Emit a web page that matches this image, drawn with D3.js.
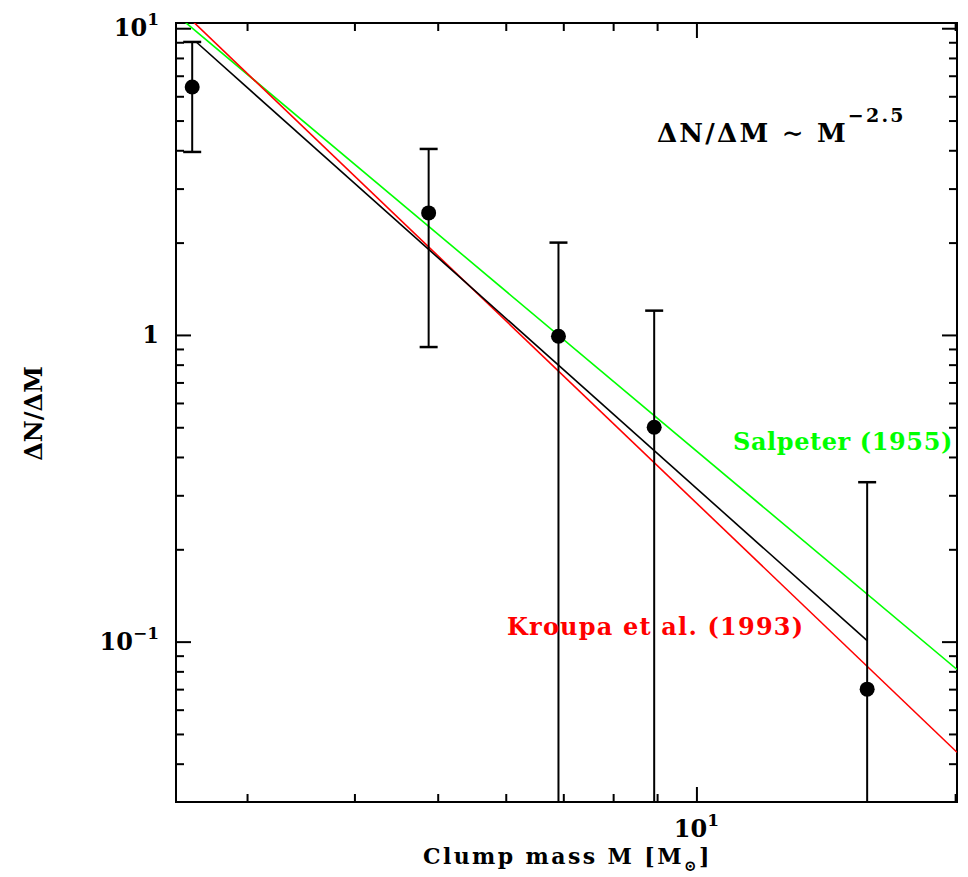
<!DOCTYPE html>
<html>
<head>
<meta charset="utf-8">
<script src="https://cdn.jsdelivr.net/npm/d3@7.9.0/dist/d3.min.js"></script>
<style>
  html, body { margin: 0; padding: 0; background: #fff; }
  svg { display: block; font-family: "DejaVu Serif", serif; }
</style>
</head>
<body>
<svg id="chart" width="968" height="877"></svg>
<script>
// clump mass spectrum
const clumpMass = [2.59, 4.88, 6.91, 8.93, 15.8];
const dNdM = [6.43, 2.50, 0.99, 0.50, 0.070];
const errUp = [9.02, 4.04, 2.0, 1.20, 0.331];
const errDown = [3.95, 0.913, 0, 0, 0]; // 0 -> bar runs off the bottom

// power laws: dN/dM = norm * M^slope
const fitLaw = { norm: 100, slope: -2.5, from: 2.62, to: 15.8 };
const salpeterLaw = { norm: 93.7, slope: -2.35 };
const kroupaLaw = { norm: 135.5, slope: -2.68 };

const massDomain = [2.48, 20.1];
const dndmDomain = [0.03, 10.4];

const massMajor = [10];
const massMinor = [3, 4, 5, 6, 7, 8, 9, 20];
const dndmMajor = [0.1, 1, 10];
const dndmMinor = [0.04, 0.05, 0.06, 0.07, 0.08, 0.09,
  0.2, 0.3, 0.4, 0.5, 0.6, 0.7, 0.8, 0.9,
  2, 3, 4, 5, 6, 7, 8, 9];
const dndmTickLabels = [["10", "\u22121"], ["1", ""], ["10", "1"]];
const massTickLabels = [["10", "1"]];

const svg = d3.select("#chart");
const margin = { left: 176, top: 23, right: 11, bottom: 75 };
const W = +svg.attr("width"), H = +svg.attr("height");
const x0 = margin.left, x1 = W - margin.right;
const y0 = margin.top, y1 = H - margin.bottom;

const x = d3.scaleLog().domain(massDomain).range([x0, x1]);
const y = d3.scaleLog().domain(dndmDomain).range([y1, y0]);

svg.append("clipPath").attr("id", "plot-clip")
  .append("rect").attr("x", x0).attr("y", y0)
  .attr("width", x1 - x0).attr("height", y1 - y0);

// ticks on all four sides, pointing in
function ticks(axisFn, scale, values, size, tx, ty) {
  svg.append("g")
    .attr("transform", `translate(${tx},${ty})`)
    .call(axisFn(scale).tickValues(values).tickSize(-size).tickFormat(""))
    .call(g => g.select(".domain").remove())
    .call(g => g.selectAll("line").attr("stroke", "#000").attr("stroke-width", 2));
}
ticks(d3.axisBottom, x, massMajor, 15, 0, y1);
ticks(d3.axisBottom, x, massMinor, 8, 0, y1);
ticks(d3.axisTop, x, massMajor, 15, 0, y0);
ticks(d3.axisTop, x, massMinor, 8, 0, y0);
ticks(d3.axisLeft, y, dndmMajor, 15, x0, 0);
ticks(d3.axisLeft, y, dndmMinor, 8, x0, 0);
ticks(d3.axisRight, y, dndmMajor, 15, x1, 0);
ticks(d3.axisRight, y, dndmMinor, 8, x1, 0);

svg.append("rect")
  .attr("x", x0).attr("y", y0)
  .attr("width", x1 - x0).attr("height", y1 - y0)
  .attr("fill", "none").attr("stroke", "#000").attr("stroke-width", 2);

// tick labels with superscripts
function powLabel(sel, base, exp) {
  sel.append("tspan").text(base);
  if (exp) sel.append("tspan").attr("dy", -11).attr("font-size", 17).text(exp);
}
dndmMajor.forEach((v, i) => {
  const t = svg.append("text")
    .attr("x", x0 - 17).attr("y", y(v) + 8)
    .attr("text-anchor", "end").attr("font-size", 24).attr("font-weight", "bold");
  powLabel(t, dndmTickLabels[i][0], dndmTickLabels[i][1]);
});
massMajor.forEach((v, i) => {
  const t = svg.append("text")
    .attr("x", x(v)).attr("y", y1 + 35)
    .attr("text-anchor", "middle").attr("font-size", 24).attr("font-weight", "bold");
  powLabel(t, massTickLabels[i][0], massTickLabels[i][1]);
});

// power-law lines
const plot = svg.append("g").attr("clip-path", "url(#plot-clip)");
const law = p => m => p.norm * Math.pow(m, p.slope);
const line = d3.line().x(d => x(d[0])).y(d => y(d[1]));

function drawLaw(p, range, color) {
  const f = law(p);
  plot.append("path")
    .datum(range.map(m => [m, f(m)]))
    .attr("d", line)
    .attr("fill", "none").attr("stroke", color).attr("stroke-width", 1.6);
}
drawLaw(salpeterLaw, massDomain, "#00ff00");
drawLaw(kroupaLaw, massDomain, "#ff0000");
drawLaw(fitLaw, [fitLaw.from, fitLaw.to], "#000");

// error bars and points
const cap = 9;
clumpMass.forEach((m, i) => {
  const cx = x(m);
  const top = y(errUp[i]);
  const bot = errDown[i] > 0 ? y(errDown[i]) : y1;
  plot.append("line").attr("x1", cx).attr("x2", cx).attr("y1", top).attr("y2", bot)
    .attr("stroke", "#000").attr("stroke-width", 2);
  plot.append("line").attr("x1", cx - cap).attr("x2", cx + cap).attr("y1", top).attr("y2", top)
    .attr("stroke", "#000").attr("stroke-width", 2.5);
  if (errDown[i] > 0) {
    plot.append("line").attr("x1", cx - cap).attr("x2", cx + cap).attr("y1", bot).attr("y2", bot)
      .attr("stroke", "#000").attr("stroke-width", 2.5);
  }
  plot.append("circle").attr("cx", cx).attr("cy", y(dNdM[i])).attr("r", 7.5).attr("fill", "#000");
});

// axis titles
svg.append("text")
  .attr("transform", `translate(${x0 - 134},${(y0 + y1) / 2 + 1}) rotate(-90)`)
  .attr("text-anchor", "middle").attr("font-size", 24).attr("font-weight", "bold")
  .text("\u0394N/\u0394M");

const xt = svg.append("text")
  .attr("x", 423).attr("y", 864)
  .attr("font-size", 22).attr("font-weight", "bold").attr("letter-spacing", 2.4);
xt.append("tspan").text("Clump mass M [M");
xt.append("tspan").attr("dy", 7).attr("font-size", 15).text("\u2299");
xt.append("tspan").attr("dy", -7).text("]");

// annotations
const ann = svg.append("text")
  .attr("x", 657).attr("y", 142).attr("font-size", 26).attr("font-weight", "bold")
  .attr("letter-spacing", 2.2);
ann.append("tspan").text("\u0394N/\u0394M \u223C M");
ann.append("tspan").attr("dy", -20).attr("font-size", 19).text("\u22122.5");

svg.append("text")
  .attr("x", 733).attr("y", 450).attr("font-size", 24).attr("font-weight", "bold")
  .attr("letter-spacing", 0.6)
  .attr("fill", "#00ff00").text("Salpeter (1955)");

svg.append("text")
  .attr("x", 507).attr("y", 635).attr("font-size", 24).attr("font-weight", "bold")
  .attr("letter-spacing", 1.2)
  .attr("fill", "#ff0000").text("Kroupa et al. (1993)");
</script>
</body>
</html>
